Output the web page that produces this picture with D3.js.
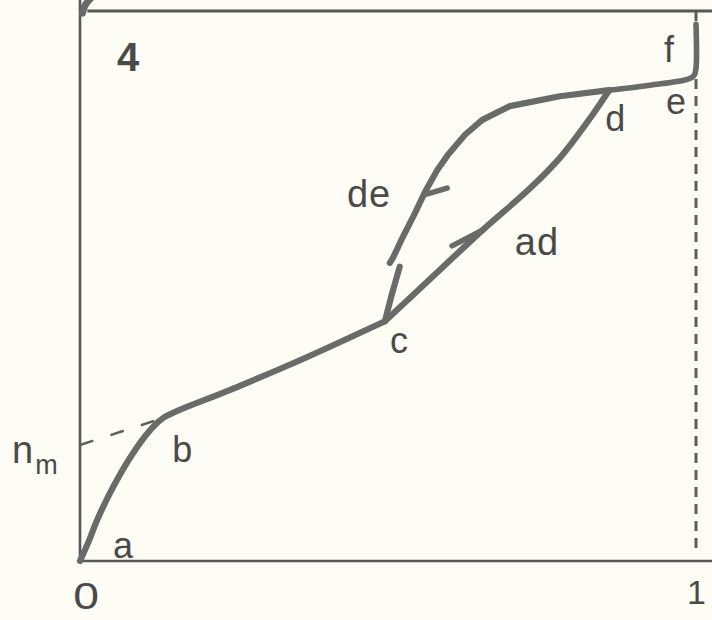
<!DOCTYPE html>
<html>
<head>
<meta charset="utf-8">
<script src="https://cdn.jsdelivr.net/npm/d3@7"></script>
<style>
  html, body { margin: 0; padding: 0; background: #fdfdf5; }
  svg { display: block; }
  text { font-family: "Liberation Sans", Arial, Helvetica, sans-serif; fill: #4a4a48; }
</style>
</head>
<body>
<svg id="chart" width="712" height="620"></svg>
<script>
// Type IV isotherm: amount adsorbed n against relative pressure p/p0.
// Adsorption branch, low-pressure part (a -> b -> c)
const lowP = [0, 0.015, 0.028, 0.054, 0.086, 0.114, 0.135, 0.244, 0.357, 0.495];
const lowN = [0, 3.8, 7.5, 13.5, 19.6, 23.8, 26.0, 31.1, 36.5, 43.6];

// Adsorption branch through the hysteresis loop (c -> d)
const adP = [0.495, 0.584, 0.654, 0.731, 0.779, 0.828, 0.859];
const adN = [43.6, 52.9, 60.2, 67.8, 73.3, 80.5, 85.6];

// Plateau up to saturation (d -> e -> f)
const topP = [0.859, 0.925, 0.987, 0.997, 1.0, 1.0];
const topN = [85.6, 86.5, 87.6, 88.3, 89.6, 97.6];

// Desorption branch (d -> c), drawn in two strokes with a small break
const desP = [0.859, 0.779, 0.698, 0.653, 0.625, 0.597, 0.580, 0.560, 0.544, 0.524, 0.508, 0.503];
const desN = [85.6, 84.5, 82.7, 80.2, 77.5, 73.8, 71.1, 67.1, 63.3, 58.9, 55.1, 54.2];
const desLowP = [0.519, 0.506, 0.495];
const desLowN = [53.5, 48.4, 43.6];

// Monolayer capacity n_m: extrapolation of the linear part back to p/p0 = 0
const nm = 21.1;
const bIndex = 6;

// Direction arrows: [p at tip, n at tip, p at barb end, n at barb end]
const arrowBarbs = [
  [0.654, 60.2, 0.604, 57.3],   // adsorption, going up
  [0.560, 66.6, 0.596, 67.8]    // desorption, going down
];

// Piece of the neighbouring panel's curve at the top-left corner
const edgeP = [0.004, 0.008, 0.018];
const edgeN = [99.6, 101.0, 102.4];

// Point letters and where they sit on the curve
const pointNames = ["a", "b", "c", "d", "e", "f"];
const pointAt = [[0, 0], [0.135, 26.0], [0.495, 43.6], [0.859, 85.6], [0.987, 87.6], [1.0, 97.6]];
const branchNames = ["ad", "de"];
const xTickValues = [0, 1];
const xTickLabels = ["0", "1"];
const panelLabel = "4";

const W = 712, H = 620;
const svg = d3.select("#chart");

const x = d3.scaleLinear().domain([0, 1]).range([80, 696]);
const y = d3.scaleLinear().domain([0, 100]).range([561, 11]);

const curveColor = "#6a6a68";
const axisColor = "#575755";

// Frame: y axis, top line, x axis
svg.append("line")
  .attr("x1", x(0)).attr("x2", x(0))
  .attr("y1", y(0) + 1).attr("y2", 0)
  .attr("stroke", axisColor).attr("stroke-width", 2.6);
svg.append("line")
  .attr("x1", x(0.012)).attr("x2", W)
  .attr("y1", y(100)).attr("y2", y(100))
  .attr("stroke", axisColor).attr("stroke-width", 2.8);

const xAxis = d3.axisBottom(x)
  .tickValues(xTickValues)
  .tickSize(0)
  .tickPadding(28)
  .tickFormat((d, i) => xTickLabels[i]);
const gx = svg.append("g")
  .attr("transform", `translate(0,${y(0)})`)
  .call(xAxis);
gx.select(".domain").remove();
gx.selectAll("text")
  .attr("fill", "#4a4a48")
  .attr("font-family", "Liberation Sans, Arial, sans-serif");
gx.selectAll(".tick").filter(d => d === 1).select("text")
  .attr("font-size", 34).attr("dy", "0.45em");
gx.selectAll(".tick").filter(d => d === 0).select("text")
  .attr("font-size", 37).attr("dx", "0.12em").attr("dy", "0.55em")
  .attr("transform", "scale(1.25,1)").attr("transform-origin", "0 0");
svg.append("line")
  .attr("x1", x(0) - 1).attr("x2", W)
  .attr("y1", y(0)).attr("y2", y(0))
  .attr("stroke", axisColor).attr("stroke-width", 2.6);

// Saturation pressure p/p0 = 1
svg.append("line")
  .attr("x1", x(1)).attr("x2", x(1))
  .attr("y1", y(100)).attr("y2", y(0) - 6)
  .attr("stroke", "#5e5e5c").attr("stroke-width", 3)
  .attr("stroke-dasharray", "10,7");

// n_m extrapolation
svg.append("line")
  .attr("x1", x(0)).attr("y1", y(nm))
  .attr("x2", x(lowP[bIndex])).attr("y2", y(lowN[bIndex]))
  .attr("stroke", "#5e5e5c").attr("stroke-width", 2.5)
  .attr("stroke-dasharray", "14,18");

const line = d3.line()
  .x(d => x(d[0])).y(d => y(d[1]))
  .curve(d3.curveCatmullRom.alpha(0.5));
const lineStraight = d3.line()
  .x(d => x(d[0])).y(d => y(d[1]));

function draw(ps, ns, gen, width) {
  svg.append("path")
    .datum(d3.zip(ps, ns))
    .attr("d", gen)
    .attr("fill", "none")
    .attr("stroke", curveColor)
    .attr("stroke-width", width)
    .attr("stroke-linecap", "round")
    .attr("stroke-linejoin", "round");
}

draw(lowP, lowN, line, 6.2);
draw(adP, adN, line, 6.2);
draw(topP, topN, line, 5.6);
draw(desP, desN, lineStraight, 6.2);
draw(desLowP, desLowN, lineStraight, 6.2);
draw(edgeP, edgeN, line, 7);

arrowBarbs.forEach(a => {
  svg.append("line")
    .attr("x1", x(a[0])).attr("y1", y(a[1]))
    .attr("x2", x(a[2])).attr("y2", y(a[3]))
    .attr("stroke", curveColor).attr("stroke-width", 5.5)
    .attr("stroke-linecap", "round");
});

// Letters
const fs = 36;
const pointOffsets = [[33, -3], [9, 44], [5, 32], [-4, 41], [-22, 35], [-32, 38]];
pointNames.forEach((name, i) => {
  svg.append("text")
    .attr("x", x(pointAt[i][0]) + pointOffsets[i][0])
    .attr("y", y(pointAt[i][1]) + pointOffsets[i][1])
    .attr("font-size", fs)
    .text(name);
});

// Branch names sit beside their arrows
svg.append("text")
  .attr("x", x(arrowBarbs[0][0]) + 32).attr("y", y(arrowBarbs[0][1]) + 25)
  .attr("font-size", 38).attr("letter-spacing", 1)
  .text(branchNames[0]);
svg.append("text")
  .attr("x", x(arrowBarbs[1][0]) - 78).attr("y", y(arrowBarbs[1][1]) + 12)
  .attr("font-size", 38).attr("letter-spacing", 1)
  .text(branchNames[1]);

// n_m label with subscript
const nmLabel = svg.append("text")
  .attr("x", x(0) - 68).attr("y", y(nm) + 18)
  .attr("font-size", 38);
nmLabel.append("tspan").text("n");
nmLabel.append("tspan").attr("font-size", 27).attr("dy", 11).attr("dx", 2).text("m");

// Panel number
svg.append("text")
  .attr("x", 117).attr("y", 71)
  .attr("font-size", 40).attr("font-weight", "bold")
  .text(panelLabel);
</script>
</body>
</html>
